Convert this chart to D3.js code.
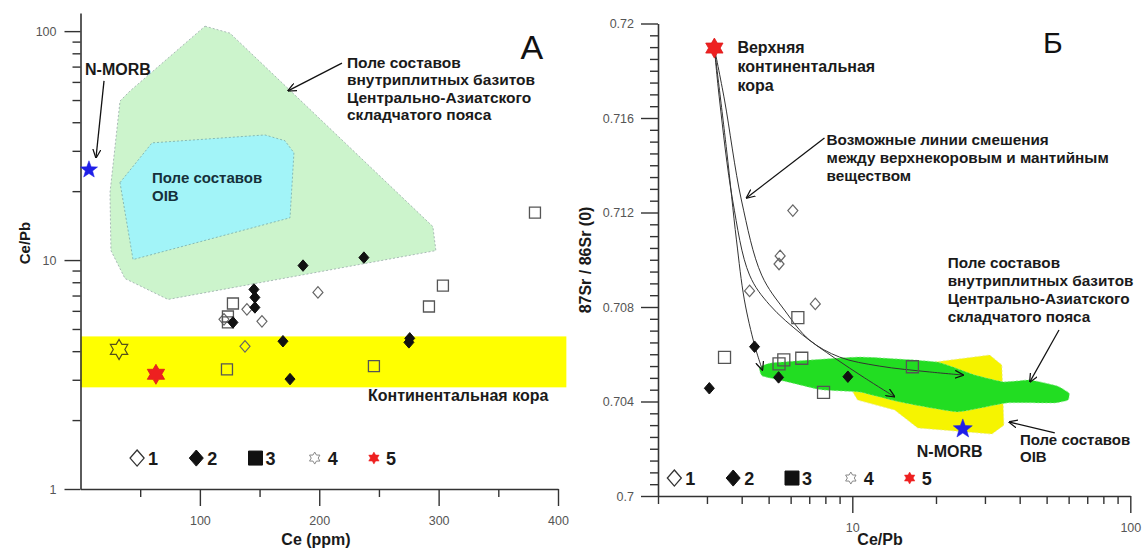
<!DOCTYPE html>
<html>
<head>
<meta charset="utf-8">
<script src="https://cdn.jsdelivr.net/npm/d3@7"></script>
<style>
  body { margin: 0; background: #fff; }
  text { font-family: "Liberation Sans", Arial, sans-serif; }
</style>
</head>
<body>
<div id="wrapper"></div>
<script>
// ---------- panel A: Ce (ppm) vs Ce/Pb ----------
const aType1 = [[139.4, 6.09], [152.0, 5.40], [120.2, 5.51], [137.8, 4.20], [198.9, 7.22]]
const aType2 = [[186.4, 9.46], [237.4, 10.25], [145.3, 7.44], [146.1, 6.87], [146.1, 6.21],
                [127.7, 5.34], [169.6, 4.42], [175.5, 3.02], [275.8, 4.55], [275.1, 4.37]]
const aType3 = [[380.7, 16.1], [127.7, 6.46], [123.5, 5.67], [123.5, 5.34], [122.7, 3.33],
                [303.6, 7.74], [291.9, 6.27], [245.8, 3.44]]
const aType4 = [[32.3, 4.07]]
const aType5 = [[63.2, 3.17]]
const aMorb = [[7.1, 24.8]]
const aFieldIntraplate = [[104.3, 105.1], [125.2, 98.0], [295.2, 14.0], [297.7, 11.0], [73.3, 6.73],
                          [37.3, 8.3], [25.5, 11.0], [24.7, 19.7], [33.1, 49.5], [41.5, 54.8]]
const aFieldOib = [[33.1, 21.8], [59.9, 32.5], [154.5, 35.2], [171.3, 33.2], [178.8, 29.4],
                   [175.5, 15.3], [44.0, 10.05]]
const aCrustX = [0, 407]
const aCrustY = [2.78, 4.64]
const aXTicks = [100, 200, 300, 400]
const aXMinor = [50, 150, 250, 350]
const aYTicks = [1, 10, 100]
const aYMinor = [2, 3, 4, 5, 6, 7, 8, 9, 20, 30, 40, 50, 60, 70, 80, 90]

// ---------- panel Б: Ce/Pb vs 87Sr/86Sr ----------
const bType1 = [[6.11, 0.71208], [5.50, 0.71016], [5.45, 0.70982], [4.27, 0.70868], [7.36, 0.70813]]
const bType2 = [[3.06, 0.70456], [4.45, 0.70632], [5.43, 0.70502], [9.64, 0.70505]]
const bType3 = [[3.47, 0.70587], [6.37, 0.70755], [6.58, 0.70583], [5.67, 0.70576], [5.45, 0.70559],
                [7.88, 0.70439], [16.45, 0.70547]]
const bType5 = [[3.19, 0.71896]]
const bMorb = [[24.97, 0.70284]]
const bFieldIntraplate = [[4.64, 0.70542], [5.12, 0.70563], [10.6, 0.70588], [20.1, 0.70567], [27.6, 0.70512],
                          [35.1, 0.70483], [43.5, 0.70491], [54.5, 0.70466], [60.2, 0.70436], [59.7, 0.70406],
                          [53.5, 0.70394], [36.0, 0.70394], [23.8, 0.70356], [14.8, 0.70398], [10.6, 0.70440],
                          [7.8, 0.70449], [5.9, 0.70482], [4.75, 0.70508]]
const bFieldOib = [[9.94, 0.70449], [11.5, 0.70483], [19.8, 0.70567], [31.2, 0.70597], [34.5, 0.70555],
                   [35.1, 0.70300], [31.8, 0.70262], [17.2, 0.70288], [14.2, 0.70364], [10.45, 0.70406]]
const bMixLines = [
  [[3.19, 0.71896], [3.53, 0.71465], [3.83, 0.71084], [4.09, 0.70830], [4.45, 0.70639], [4.75, 0.70533]],
  [[3.19, 0.71896], [3.33, 0.71676], [3.71, 0.71253], [4.27, 0.70935], [5.04, 0.70809], [6.62, 0.70682],
   [8.64, 0.70584], [11.07, 0.70500], [14.19, 0.70420]],
  [[3.19, 0.71896], [3.47, 0.71676], [3.99, 0.71253], [4.72, 0.70935], [5.70, 0.70787], [7.02, 0.70660],
   [9.00, 0.70588], [12.5, 0.70550], [19.0, 0.70525], [25.1, 0.70512]]
]
const bXTicks = [10, 100]
const bXMinor = [2, 3, 4, 5, 6, 7, 8, 9, 20, 30, 40, 50, 60, 70, 80, 90]
const bYTicks = [0.7, 0.704, 0.708, 0.712, 0.716, 0.72]

const legendLabels = ["1", "2", "3", "4", "5"]

// ---------- symbols ----------
const diamond = { draw(ctx, r) { ctx.moveTo(0, -r * 1.15); ctx.lineTo(r, 0); ctx.lineTo(0, r * 1.15); ctx.lineTo(-r, 0); ctx.closePath() } }
const square = { draw(ctx, r) { ctx.rect(-r, -r, 2 * r, 2 * r) } }
const starN = (n, inner) => ({
  draw(ctx, r) {
    for (let i = 0; i < n * 2; i++) {
      const a = -Math.PI / 2 + i * Math.PI / n
      const rr = i % 2 ? r * inner : r
      i ? ctx.lineTo(rr * Math.cos(a), rr * Math.sin(a)) : ctx.moveTo(rr * Math.cos(a), rr * Math.sin(a))
    }
    ctx.closePath()
  }
})
const star6 = starN(6, 0.58)
const star5 = starN(5, 0.42)

const style = {
  t1: { type: diamond, r: 5, fill: "none", stroke: "#666", sw: 1.2 },
  t2: { type: diamond, r: 5, fill: "#111", stroke: "#111", sw: 1 },
  t3: { type: square, r: 5.5, fill: "none", stroke: "#555", sw: 1.3 },
  t4: { type: star6, r: 10, fill: "none", stroke: "#55501a", sw: 1.2 },
  t5: { type: star6, r: 10, fill: "#ee2020", stroke: "#dd1a1a", sw: 0.8 },
  morb: { type: star5, r: 10, fill: "#1f1fe8", stroke: "#1f1fe8", sw: 0.5 },
}

const W = 1147, H = 550
const svg = d3.select("#wrapper").append("svg").attr("width", W).attr("height", H)

svg.append("defs").append("marker")
  .attr("id", "arr").attr("viewBox", "0 0 10 10").attr("refX", 9.5).attr("refY", 5)
  .attr("markerWidth", 9).attr("markerHeight", 9).attr("markerUnits", "userSpaceOnUse")
  .attr("orient", "auto")
  .append("path").attr("d", "M0,0.5 L10,5 L0,9.5").attr("fill", "none")
  .attr("stroke", "#111").attr("stroke-width", 1.4)

function points(g, data, sx, sy, st) {
  g.append("g").selectAll("path").data(data).join("path")
    .attr("transform", d => `translate(${sx(d[0])},${sy(d[1])})`)
    .attr("d", d3.symbol(st.type, st.r))
    .attr("fill", st.fill).attr("stroke", st.stroke).attr("stroke-width", st.sw)
}

function styleAxis(g, keepDomain) {
  g.selectAll(".tick line").attr("stroke", "#333").attr("stroke-width", 1.4)
  if (keepDomain) g.select(".domain").attr("stroke", "#333").attr("stroke-width", 1.6)
  else g.select(".domain").remove()
  g.selectAll("text").attr("fill", "#555").style("font-size", "12.5px")
    .style("font-family", '"Liberation Sans", Arial, sans-serif')
}

function note(g, x, y, lines, size, lh, opts = {}) {
  const t = g.append("text").attr("x", x).attr("y", y)
    .style("font-size", size + "px").style("font-weight", opts.weight || "bold")
    .attr("fill", opts.fill || "#1a1a1a").attr("text-anchor", opts.anchor || "start")
  lines.forEach((l, i) => t.append("tspan").attr("x", x).attr("dy", i ? lh : 0).text(l))
}

function arrow(g, pts, sx, sy) {
  g.append("path").attr("d", d3.line().x(d => sx(d[0])).y(d => sy(d[1]))(pts))
    .attr("fill", "none").attr("stroke", "#111").attr("stroke-width", 1.3).attr("marker-end", "url(#arr)")
}

function legend(g, sx, y) {
  const kinds = [
    { type: diamond, r: 7, fill: "#fff", stroke: "#333", sw: 1.3, dx: 11 },
    { type: diamond, r: 7, fill: "#111", stroke: "#111", sw: 1, dx: 11 },
    { type: square, r: 7, fill: "#111", stroke: "#111", sw: 1, dx: 10 },
    { type: star6, r: 6, fill: "#fff", stroke: "#888", sw: 1, dx: 13 },
    { type: star6, r: 6, fill: "#ee2020", stroke: "#ee2020", sw: 0.5, dx: 12 },
  ]
  const item = g.append("g").selectAll("g").data(legendLabels).join("g")
    .attr("transform", d => `translate(${sx(d)},${y})`)
  item.append("path").attr("d", (d, i) => d3.symbol(kinds[i].type, kinds[i].r)())
    .attr("fill", (d, i) => kinds[i].fill).attr("stroke", (d, i) => kinds[i].stroke)
    .attr("stroke-width", (d, i) => kinds[i].sw)
  item.append("text").attr("x", (d, i) => kinds[i].dx).attr("y", 6.5)
    .style("font-size", "18px").style("font-weight", "bold").attr("fill", "#1a1a1a").text(d => d)
}

// ================= panel A =================
const xA = d3.scaleLinear().domain([0, 400]).range([80.5, 558])
const yA = d3.scaleLog().domain([1, 120]).range([489, 13])
const gA = svg.append("g")

const polyA = d3.line().x(d => xA(d[0])).y(d => yA(d[1]))
gA.append("path").attr("d", polyA(aFieldIntraplate) + "Z")
  .attr("fill", "#ccf4cc").attr("stroke", "#9aa").attr("stroke-width", 0.8).attr("stroke-dasharray", "2,2")
gA.append("path").attr("d", polyA(aFieldOib) + "Z")
  .attr("fill", "#a2f4f8").attr("stroke", "#7aa").attr("stroke-width", 0.8).attr("stroke-dasharray", "2,2")
gA.append("rect")
  .attr("x", xA(aCrustX[0])).attr("width", xA(aCrustX[1]) - xA(aCrustX[0]))
  .attr("y", yA(aCrustY[1])).attr("height", yA(aCrustY[0]) - yA(aCrustY[1]))
  .attr("fill", "#ffff00")

gA.append("g").attr("transform", `translate(${xA(0)},0)`)
  .call(d3.axisLeft(yA).tickValues(aYMinor).tickSize(8).tickFormat(""))
  .call(g => styleAxis(g, false))
gA.append("g").attr("transform", `translate(${xA(0)},0)`)
  .call(d3.axisLeft(yA).tickValues(aYTicks).tickSize(16).tickPadding(8).tickSizeOuter(0).tickFormat(d3.format("d")))
  .call(g => styleAxis(g, true))
gA.append("g").attr("transform", `translate(0,${yA(1)})`)
  .call(d3.axisBottom(xA).tickValues(aXMinor).tickSize(8).tickFormat(""))
  .call(g => styleAxis(g, false))
gA.append("g").attr("transform", `translate(0,${yA(1)})`)
  .call(d3.axisBottom(xA).tickValues(aXTicks).tickSize(17).tickPadding(10).tickSizeOuter(0))
  .call(g => styleAxis(g, true))

gA.append("text").attr("transform", `translate(30,243) rotate(-90)`).attr("text-anchor", "middle")
  .style("font-size", "15px").style("font-weight", "bold").attr("fill", "#1a1a1a").text("Ce/Pb")
gA.append("text").attr("x", 316).attr("y", 545).attr("text-anchor", "middle")
  .style("font-size", "16px").style("font-weight", "bold").attr("fill", "#1a1a1a").text("Ce (ppm)")

points(gA, aType1, xA, yA, style.t1)
points(gA, aType3, xA, yA, style.t3)
points(gA, aType2, xA, yA, style.t2)
points(gA, aType4, xA, yA, style.t4)
points(gA, aType5, xA, yA, style.t5)
points(gA, aMorb, xA, yA, { ...style.morb, r: 9 })

note(gA, xA(3.8), yA(64.3), ["N-MORB"], 16, 0)
arrow(gA, [[19.7, 60.6], [12.98, 27.97]], xA, yA)
note(gA, xA(223.2), yA(69.0), ["Поле составов", "внутриплитных базитов", "Центрально-Азиатского", "складчатого пояса"], 15.5, 17.3)
arrow(gA, [[219.0, 72.5], [173.8, 54.8]], xA, yA)
note(gA, xA(59.9), yA(21.8), ["Поле составов", "OIB"], 15, 18, { fill: "#16303a" })
note(gA, xA(240.8), yA(2.42), ["Континентальная кора"], 16, 0)
note(gA, xA(378.1), yA(75.5), ["А"], 34, 0, { weight: "normal", anchor: "middle", fill: "#111" })

legend(gA, d3.scalePoint().domain(legendLabels).range([xA(47.4), xA(245.8)]), yA(1.365))

// ================= panel Б =================
const xB = d3.scaleLog().domain([2, 100]).range([658, 1130.3])
const yB = d3.scaleLinear().domain([0.7, 0.72]).range([496, 23.5])
const gB = svg.append("g")

const polyB = d3.line().x(d => xB(d[0])).y(d => yB(d[1]))
gB.append("path").attr("d", polyB(bFieldOib) + "Z")
  .attr("fill", "#f6f400").attr("stroke", "#e8e890").attr("stroke-width", 0.8).attr("stroke-dasharray", "2,2")
gB.append("path").attr("d", d3.line().x(d => xB(d[0])).y(d => yB(d[1])).curve(d3.curveCardinalClosed.tension(0.6))(bFieldIntraplate))
  .attr("fill", "#22dd22").attr("stroke", "#88e888").attr("stroke-width", 0.8).attr("stroke-dasharray", "2,2")

gB.append("g").attr("transform", `translate(${xB(2)},0)`)
  .call(d3.axisLeft(yB).tickValues(d3.range(1, 40).filter(i => i % 8).map(i => 0.7 + i * 0.0005)).tickSize(8).tickFormat(""))
  .call(g => styleAxis(g, false))
gB.append("g").attr("transform", `translate(${xB(2)},0)`)
  .call(d3.axisLeft(yB).tickValues(bYTicks).tickSize(17).tickPadding(7).tickSizeOuter(0).tickFormat(d3.format("")))
  .call(g => styleAxis(g, true))
gB.append("g").attr("transform", `translate(0,${yB(0.7)})`)
  .call(d3.axisBottom(xB).tickValues(bXMinor).tickSize(8).tickFormat(""))
  .call(g => styleAxis(g, false))
gB.append("g").attr("transform", `translate(0,${yB(0.7)})`)
  .call(d3.axisBottom(xB).tickValues(bXTicks).tickSize(17).tickPadding(10).tickSizeOuter(0).tickFormat(d3.format("d")))
  .call(g => styleAxis(g, true))

gB.append("text").attr("transform", `translate(591,260) rotate(-90)`).attr("text-anchor", "middle")
  .style("font-size", "16px").style("font-weight", "bold").attr("fill", "#1a1a1a").text("87Sr / 86Sr (0)")
gB.append("text").attr("x", 880).attr("y", 545).attr("text-anchor", "middle")
  .style("font-size", "16px").style("font-weight", "bold").attr("fill", "#1a1a1a").text("Ce/Pb")

const mix = d3.line().x(d => xB(d[0])).y(d => yB(d[1])).curve(d3.curveCatmullRom)
gB.append("g").selectAll("path").data(bMixLines).join("path")
  .attr("d", mix).attr("fill", "none").attr("stroke", "#333").attr("stroke-width", 1)
  .attr("marker-end", "url(#arr)")

points(gB, bType1, xB, yB, style.t1)
points(gB, bType3, xB, yB, { ...style.t3, r: 6 })
points(gB, bType2, xB, yB, style.t2)
points(gB, bType5, xB, yB, style.t5)
points(gB, bMorb, xB, yB, style.morb)

note(gB, xB(3.86), yB(0.71875), ["Верхняя", "континентальная", "кора"], 16, 19)
note(gB, xB(52.6), yB(0.71875), ["Б"], 30, 0, { weight: "normal", anchor: "middle", fill: "#111" })
note(gB, xB(8.08), yB(0.714857), ["Возможные линии смешения", "между верхнекоровым и мантийным", "веществом"], 15.3, 18)
arrow(gB, [[7.94, 0.715153], [4.16, 0.712614]], xB, yB)
note(gB, xB(22.04), yB(0.709651), ["Поле составов", "внутриплитных базитов", "Центрально-Азиатского", "складчатого пояса"], 15.3, 18)
arrow(gB, [[55.4, 0.707027], [43.5, 0.704825]], xB, yB)
note(gB, xB(22.4), yB(0.701651), ["N-MORB"], 16, 0, { anchor: "middle" })
note(gB, xB(40.1), yB(0.702159), ["Поле составов", "OIB"], 15, 17)
arrow(gB, [[53.5, 0.702667], [36.6, 0.703132]], xB, yB)

legend(gB, d3.scalePoint().domain(legendLabels).range([xB(2.29), xB(16.08)]), yB(0.70076))
</script>
</body>
</html>
